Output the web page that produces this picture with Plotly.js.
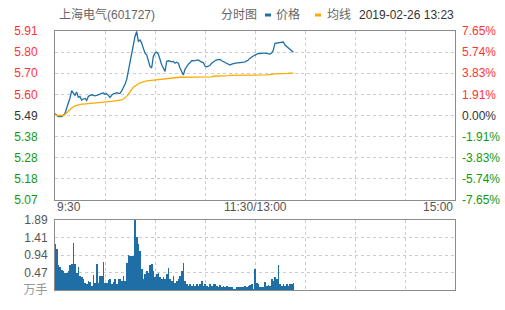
<!DOCTYPE html>
<html><head><meta charset="utf-8">
<script src="https://cdn.plot.ly/plotly-3.0.1.min.js"></script>
<style>html,body{margin:0;padding:0;background:#fff;}#chart{width:505px;height:310px;}</style>
</head><body><div id="chart"></div>
<script>
const stockName = '上海电气(601727)';
const dateText = '2019-02-26 13:23';
const prevClose = 5.49;
const pctTicks = [7.65, 5.74, 3.83, 1.91, 0, -1.91, -3.83, -5.74, -7.65];
const priceTickText = ['5.91','5.80','5.70','5.60','5.49','5.38','5.28','5.18','5.07'];
const volTickVals = [0, 0.4725, 0.945, 1.4175, 1.89];
const volTickText = ['万手','0.47','0.94','1.41','1.89'];
const timeLabels = ['9:30','11:30/13:00','15:00'];
const timeLabelPos = [0, 120, 240];

const price = [5.50,5.49,5.485,5.485,5.485,5.49,5.50,5.527,5.55,5.577,
5.613,5.60,5.59,5.606,5.58,5.585,5.567,5.572,5.575,5.565,
5.585,5.59,5.593,5.59,5.588,5.59,5.592,5.596,5.60,5.602,
5.595,5.598,5.59,5.58,5.59,5.598,5.60,5.603,5.60,5.60,
5.612,5.626,5.645,5.668,5.709,5.759,5.809,5.85,5.883,5.908,
5.859,5.865,5.85,5.825,5.80,5.792,5.759,5.734,5.726,5.784,
5.80,5.805,5.795,5.767,5.742,5.726,5.709,5.759,5.762,5.76,
5.757,5.759,5.75,5.755,5.75,5.726,5.707,5.691,5.72,5.735,
5.745,5.752,5.762,5.762,5.764,5.766,5.766,5.76,5.755,5.752,
5.736,5.732,5.735,5.74,5.75,5.757,5.762,5.766,5.768,5.769,
5.762,5.757,5.752,5.749,5.745,5.741,5.745,5.748,5.75,5.752,
5.752,5.752,5.752,5.755,5.757,5.76,5.766,5.775,5.782,5.786,
5.79,5.795,5.799,5.798,5.80,5.80,5.80,5.798,5.796,5.795,
5.80,5.815,5.849,5.85,5.852,5.854,5.853,5.855,5.84,5.832,
5.825,5.819,5.812,5.804];

const avgPrice = [5.497,5.49,5.49,5.49,5.49,5.49,5.495,5.505,5.515,5.52,
5.527,5.533,5.538,5.54,5.543,5.545,5.547,5.547,5.548,5.549,
5.550,5.551,5.552,5.553,5.554,5.555,5.555,5.556,5.556,5.557,
5.558,5.558,5.559,5.559,5.560,5.561,5.561,5.562,5.563,5.565,
5.568,5.572,5.578,5.585,5.595,5.610,5.620,5.630,5.637,5.643,
5.648,5.652,5.656,5.658,5.660,5.662,5.663,5.664,5.665,5.666,
5.668,5.669,5.670,5.671,5.672,5.673,5.674,5.675,5.676,5.677,
5.677,5.678,5.679,5.679,5.680,5.680,5.680,5.680,5.680,5.680,
5.680,5.680,5.680,5.681,5.681,5.681,5.681,5.681,5.681,5.682,
5.682,5.682,5.682,5.682,5.682,5.685,5.685,5.685,5.686,5.686,
5.686,5.687,5.687,5.688,5.688,5.689,5.689,5.689,5.689,5.689,
5.690,5.690,5.690,5.690,5.690,5.690,5.690,5.690,5.690,5.690,
5.690,5.690,5.691,5.691,5.691,5.692,5.692,5.692,5.693,5.693,
5.696,5.696,5.697,5.697,5.698,5.698,5.699,5.699,5.700,5.700,
5.700,5.701,5.701,5.701];

const volume = [1.24,1.12,0.68,0.62,0.55,0.50,0.47,0.45,0.52,0.68,
0.70,1.27,0.70,0.45,0.62,0.38,0.35,0.30,0.20,0.16,
0.25,0.22,0.10,0.40,0.20,0.70,0.20,0.38,0.38,0.76,
0.20,0.20,0.28,0.30,0.15,0.22,0.29,0.15,0.30,0.30,
0.25,0.38,0.25,0.72,0.95,0.92,0.93,0.93,1.89,1.42,
1.23,1.05,0.56,0.29,0.43,0.52,0.47,0.68,0.70,0.52,
0.34,0.43,0.47,0.34,0.29,0.34,0.29,0.43,0.60,0.29,
0.25,0.38,0.20,0.25,0.29,0.38,0.52,0.74,0.25,0.16,
0.11,0.16,0.11,0.16,0.11,0.16,0.11,0.16,0.25,0.11,
0.16,0.11,0.07,0.16,0.11,0.16,0.16,0.11,0.09,0.13,
0.09,0.11,0.09,0.11,0.09,0.09,0.07,0.04,0.04,0.09,
0.09,0.07,0.09,0.07,0.11,0.07,0.11,0.13,0.16,0.04,
0.58,0.20,0.16,0.07,0.07,0.07,0.22,0.11,0.13,0.11,
0.31,0.25,0.34,0.29,0.68,0.16,0.11,0.16,0.11,0.16,
0.11,0.16,0.16,0.20];

const minutes = price.map((_, i) => i);
const pct = price.map(p => (p / prevClose - 1) * 100);

const RED = '#ff3333', GREEN = '#119911', DARK = '#333333', GRAY = '#666666';
const BLUE = '#1f6ea6', ORANGE = '#ffaa00';
const FONT = 'Liberation Sans, Arial, Noto Sans CJK SC, sans-serif';

const colorFor = v => v > 0 ? RED : (v < 0 ? GREEN : DARK);
const priceTickVals = pctTicks.map(p => prevClose * (1 + p / 100));
const priceTickHtml = priceTickText.map((t, i) => `<span style="color:${colorFor(pctTicks[i])}">${t}</span>`);
const pctTickHtml = pctTicks.map(p => `<span style="color:${colorFor(p)}">${p.toFixed(2)}%</span>`);
const volTickHtml = volTickText.map((t, i) => i === 0 ? `<span style="color:#999">${t}</span>` : t);

const W = 505, H = 310, L = 55, R = 50, T = 31, B = 20;
const pw = W - L - R, ph = H - T - B;
const px = x => (x - L) / pw;
const py = y => (H - B - y) / ph;

const gridStyle = {showgrid: true, gridcolor: '#cccccc', griddash: '3px,3px', gridwidth: 1};
const boxStyle = {showline: true, mirror: true, linecolor: '#8c8c8c', linewidth: 1, zeroline: false};

const traces = [
  {x: minutes, y: price, type: 'scatter', mode: 'lines', line: {color: BLUE, width: 1.3}, xaxis: 'x', yaxis: 'y', hoverinfo: 'skip'},
  {x: minutes, y: avgPrice, type: 'scatter', mode: 'lines', line: {color: ORANGE, width: 1.3}, xaxis: 'x', yaxis: 'y', hoverinfo: 'skip'},
  {x: minutes, y: pct, type: 'scatter', mode: 'lines', line: {color: 'rgba(0,0,0,0)', width: 0}, xaxis: 'x', yaxis: 'y3', hoverinfo: 'skip'},
  {x: minutes, y: volume, type: 'bar', marker: {color: BLUE, line: {width: 0}}, xaxis: 'x2', yaxis: 'y2', hoverinfo: 'skip'}
];

const annotations = [
  {text: stockName, x: px(57), y: py(15), xanchor: 'left', font: {size: 12, color: GRAY}},
  {text: '分时图', x: px(219), y: py(15), xanchor: 'left', font: {size: 12, color: GRAY}},
  {text: '价格', x: px(274), y: py(15), xanchor: 'left', font: {size: 12, color: GRAY}},
  {text: '均线', x: px(325), y: py(15), xanchor: 'left', font: {size: 12, color: GRAY}},
  {text: dateText, x: px(456), y: py(15), xanchor: 'right', font: {size: 12, color: DARK}},
].map(a => Object.assign({xref: 'paper', yref: 'paper', yanchor: 'middle', showarrow: false}, a));

const anchors = ['left', 'center', 'right'];
timeLabels.forEach((t, i) => annotations.push({
  text: t, x: timeLabelPos[i], xref: 'x', y: py(207), yref: 'paper', yanchor: 'middle',
  xanchor: anchors[i], showarrow: false, font: {size: 12, color: '#555'}
}));

const shapes = [
  {type: 'line', xref: 'paper', yref: 'paper', x0: px(265), x1: px(271), y0: py(15), y1: py(15), line: {color: BLUE, width: 3}},
  {type: 'line', xref: 'paper', yref: 'paper', x0: px(315), x1: px(321), y0: py(15), y1: py(15), line: {color: ORANGE, width: 3}}
];

const layout = {
  width: W, height: H,
  margin: {l: L, r: R, t: T, b: B, pad: 0},
  paper_bgcolor: '#fff', plot_bgcolor: '#fff',
  showlegend: false, bargap: 0,
  font: {family: FONT, size: 12, color: '#555'},
  xaxis: Object.assign({domain: [0, 1], range: [0, 240], anchor: 'y', dtick: 30, tick0: 0, showticklabels: false, ticks: ''}, gridStyle, boxStyle),
  yaxis: Object.assign({domain: [py(200), 1], range: [priceTickVals[8], priceTickVals[0]], tickmode: 'array', tickvals: priceTickVals, ticktext: priceTickHtml, ticks: '', ticklabelstandoff: 14, tickfont: {size: 12}}, gridStyle, boxStyle),
  yaxis3: {overlaying: 'y', side: 'right', anchor: 'x', range: [pctTicks[8], pctTicks[0]], tickmode: 'array', tickvals: pctTicks, ticktext: pctTickHtml, showgrid: false, zeroline: false, showline: false, ticks: '', ticklabelstandoff: 6, tickfont: {size: 12}},
  xaxis2: Object.assign({domain: [0, 1], range: [0, 240], anchor: 'y2', dtick: 30, tick0: 0, showticklabels: false, ticks: ''}, gridStyle, boxStyle),
  yaxis2: Object.assign({domain: [0, py(220)], range: [0, 1.89], tickmode: 'array', tickvals: volTickVals, ticktext: volTickHtml, ticks: '', ticklabelstandoff: 4, tickfont: {size: 12, color: '#555'}}, gridStyle, boxStyle),
  annotations: annotations,
  shapes: shapes
};

Plotly.newPlot('chart', traces, layout, {staticPlot: true, displayModeBar: false});
</script></body></html>
